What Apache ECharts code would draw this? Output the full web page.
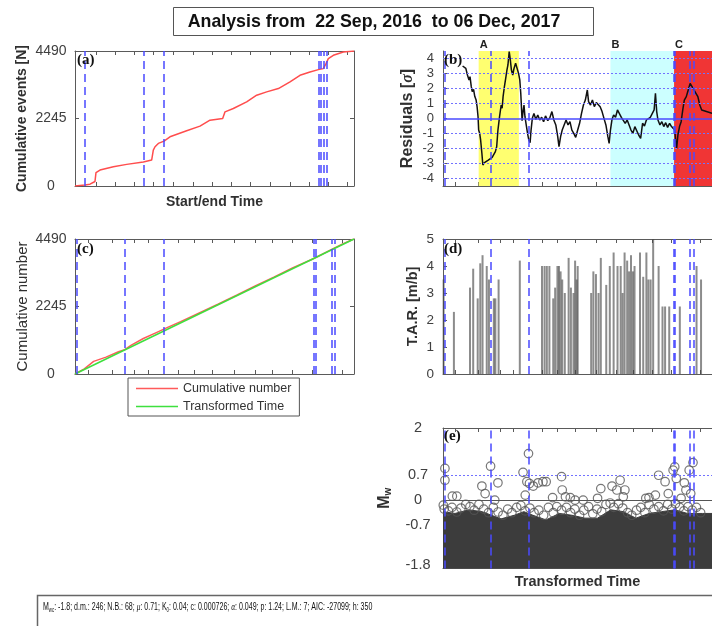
<!DOCTYPE html>
<html><head><meta charset="utf-8">
<script src="https://cdn.jsdelivr.net/npm/echarts@6/dist/echarts.min.js"></script>
<style>html,body{margin:0;padding:0;background:#fff}#c{width:712px;height:626px}</style>
</head><body><div id="c"></div>
<script>
// ---------------- data ----------------
const titleText = 'Analysis from  22 Sep, 2016  to 06 Dec, 2017';
const dayTicks = [33, 63, 94, 124, 155, 186, 216, 247, 277, 308, 339, 369, 400, 430];
const ttTicks = [209, 595, 958, 1175, 1658, 1915, 2205, 2559, 2897, 3170, 3492, 3814, 4297];
const cumTicks = [0, 2245, 4490];
const resTicks = [-4, -3, -2, -1, 0, 1, 2, 3, 4];
const tarTicks = [0, 1, 2, 3, 4, 5];
const mwTicks = [-1.8, -0.7, 0, 0.7, 2];
const eventDays = [15.8, 107.8, 140.4, 383.8, 388, 392.7, 397];
const eventTT = [25, 797, 1424, 3850, 3870, 4125, 4178];
const regionA = ['A', 595, 1266];
const regionB = ['B', 2795, 3857];
const regionC = ['C', 3857, 4490];
const cumEvents = [[0,0],[15.8,30],[23.7,60],[31.5,150],[33.1,442],[39.4,531],[60.5,641],[81.5,719],[107.8,796],[120.9,863],[123.5,1195],[126.2,1305],[131.4,1416],[140.4,1493],[149.8,1637],[176.1,1836],[197.1,1991],[212.9,2190],[232.9,2245],[236.6,2466],[249.7,2577],[270.7,2798],[286.5,3019],[302.3,3130],[320.7,3241],[339.1,3462],[354.8,3683],[370.6,3794],[383.8,3871],[391.6,3904],[395.9,4070],[399.5,4236],[407.4,4347],[423.2,4457],[440,4490]];
const cumNumber = [[0,0],[150,170],[300,420],[500,560],[700,740],[800,810],[900,950],[1100,1180],[1300,1370],[1500,1560],[1700,1740],[2000,2030],[2300,2320],[2600,2620],[2900,2930],[3200,3220],[3500,3530],[3800,3800],[3900,3900],[4100,4110],[4300,4320],[4490,4490]];
const transformedTime = [[0,0],[4490,4490]];
const residuals = [[327,3.5],[381,3.34],[408,2.9],[434,2.57],[451,2.79],[472,2.12],[488,1.79],[510,1.94],[531,1.46],[553,1.23],[569,0.79],[585,0.12],[595,-0.77],[612,-0.99],[628,-1.43],[649,-2.32],[665,-3.1],[692,-2.94],[719,-2.99],[756,-2.77],[789,-2.81],[821,-2.59],[853,-2.66],[874,-2.21],[896,-1.88],[917,-0.77],[944,0.12],[971,0.9],[987,0.68],[1003,1.46],[1025,2.12],[1051,2.79],[1067,3.23],[1084,3.57],[1105,4.46],[1121,4.01],[1142,3.23],[1164,2.9],[1185,3.34],[1212,3.68],[1239,3.57],[1261,3.01],[1282,2.57],[1298,1.68],[1309,0.79],[1320,-0.14],[1336,0.46],[1352,0.9],[1368,0.12],[1389,-0.43],[1411,-0.99],[1432,-1.43],[1454,-1.61],[1470,-0.77],[1491,0.01],[1518,0.34],[1550,-0.06],[1582,0.23],[1615,-0.1],[1647,0.08],[1679,-0.21],[1711,0.17],[1749,-0.14],[1786,0.08],[1818,0.46],[1850,-0.1],[1883,-0.43],[1915,-1.21],[1936,-1.88],[1963,-1.21],[1990,-0.77],[2022,-0.66],[2054,-0.1],[2087,-0.43],[2119,-0.21],[2151,-0.77],[2183,-0.99],[2215,-1.26],[2248,-0.77],[2280,-0.32],[2312,0.34],[2344,0.9],[2376,1.23],[2409,1.9],[2430,1.12],[2462,0.9],[2494,1.23],[2526,0.79],[2559,1.06],[2591,0.97],[2623,0.79],[2655,0.46],[2687,0.01],[2719,-0.43],[2752,-1.21],[2773,-1.66],[2795,-0.77],[2821,-0.06],[2848,0.23],[2880,0.08],[2912,0.57],[2945,0.61],[2977,0.08],[3009,0.17],[3041,-0.32],[3074,-0.1],[3106,-0.43],[3138,-0.77],[3170,-0.99],[3202,-0.54],[3234,-0.66],[3266,-1.1],[3299,-1.32],[3331,-0.32],[3363,-0.5],[3395,-0.1],[3427,-0.21],[3460,0.08],[3492,0.08],[3524,0.57],[3546,1.68],[3567,0.46],[3588,-0.1],[3621,-0.43],[3653,-0.21],[3685,-0.54],[3717,-0.28],[3749,-0.59],[3782,-0.32],[3814,-0.54],[3846,-0.43],[3867,-0.77],[3883,-1.43],[3900,-1.99],[3921,-1.1],[3948,-0.54],[3975,-0.21],[4002,0.57],[4028,1.23],[4061,1.46],[4093,1.9],[4125,2.34],[4157,2.12],[4189,2.23],[4222,1.68],[4254,1.46],[4286,0.9],[4318,0.57],[4350,0.68],[4490,0.34]];
const tar = [[10,3.5],[182,2.3],[451,3.2],[504,3.9],[579,2.8],[622,4.1],[660,4.4],[730,4.0],[767,3.5],[848,2.8],[874,2.8],[928,3.5],[1282,4.2],[1652,4.0],[1695,4.0],[1733,4.0],[1776,4.0],[1840,2.8],[1872,3.2],[1910,4.0],[1936,4.0],[1963,3.8],[1990,3.5],[2033,3.0],[2097,4.3],[2135,3.2],[2178,3.0],[2205,4.2],[2231,3.5],[2248,4.0],[2473,3.0],[2510,3.8],[2553,3.7],[2596,3.0],[2634,4.3],[2725,3.3],[2784,4.0],[2848,4.5],[2913,4.0],[2966,4.0],[2998,3.0],[3031,4.5],[3074,4.2],[3106,3.8],[3138,4.4],[3170,3.8],[3197,4.0],[3288,4.5],[3342,3.6],[3395,4.5],[3428,3.5],[3465,3.5],[3508,5.0],[3599,4.0],[3664,2.5],[3707,2.5],[3776,2.5],[3953,2.5],[4232,4.0],[4307,3.5]];
// upper edge of the solid (saturated) cloud of magnitudes
const mwCloudTop = [[0,-0.32],[200,-0.37],[430,-0.27],[650,-0.32],[810,-0.42],[970,-0.52],[1190,-0.42],[1350,-0.32],[1500,-0.42],[1720,-0.55],[1940,-0.37],[2150,-0.42],[2370,-0.5],[2580,-0.5],[2800,-0.27],[3010,-0.32],[3220,-0.5],[3440,-0.37],[3650,-0.32],[3870,-0.27],[4080,-0.37],[4330,-0.37],[4490,-0.37]];
// individually visible events above / at the edge of the cloud
const mwEvents = [[32,0.88],[32,0.55],[5,-0.14],[156,0.11],[231,0.11],[649,0.39],[703,0.18],[794,0.94],[864,0.0],[917,0.48],[1336,0.77],[1400,0.51],[1427,1.29],[1443,0.46],[1373,0.14],[1507,0.39],[1588,0.48],[1668,0.51],[1722,0.51],[1979,0.65],[1990,0.28],[1829,0.07],[2044,0.09],[2124,0.07],[2205,0.0],[2339,0.0],[2634,0.32],[2580,0.05],[2821,0.39],[2956,0.55],[2902,0.28],[3036,0.28],[3009,0.09],[3599,0.69],[3707,0.51],[3841,0.83],[3868,0.92],[3894,0.6],[4028,0.48],[4055,0.28],[4109,0.83],[4173,1.04],[4135,0.18],[3438,0.07],[3545,0.14],[3385,0.05],[3760,0.18],[3974,0.05],
[20,-0.25],[90,-0.3],[150,-0.2],[230,-0.33],[300,-0.22],[380,-0.12],[450,-0.18],[520,-0.28],[600,-0.12],[680,-0.25],[760,-0.35],[840,-0.2],[920,-0.33],[1000,-0.42],[1080,-0.25],[1150,-0.35],[1230,-0.2],[1300,-0.15],[1370,-0.3],[1450,-0.22],[1520,-0.35],[1600,-0.28],[1680,-0.42],[1760,-0.2],[1840,-0.35],[1900,-0.18],[1980,-0.28],[2060,-0.2],[2130,-0.35],[2200,-0.25],[2280,-0.42],[2350,-0.28],[2430,-0.18],[2500,-0.38],[2570,-0.25],[2650,-0.32],[2720,-0.12],[2790,-0.08],[2850,-0.2],[2930,-0.1],[3000,-0.22],[3080,-0.35],[3150,-0.42],[3230,-0.28],[3300,-0.2],[3370,-0.35],[3440,-0.12],[3520,-0.25],[3600,-0.18],[3680,-0.3],[3750,-0.12],[3820,-0.25],[3880,-0.1],[3950,-0.2],[4020,-0.3],[4090,-0.18],[4160,-0.28],[4230,-0.2],[4300,-0.35]];
const statsLine = ['-1.8', '246', '68', '0.71', '0.04', '0.000726', '0.049', '1.24', '7', '-27099', '350'];

// ---------------- styles ----------------
const FONT = 'Liberation Sans, Arial, sans-serif';
const AX = '#5a5a5a';
const EVT = { type: [8, 5], color: '#4a4aff', width: 1.5 };
const lbl = { fontFamily: FONT, color: '#404040', formatter: v => String(v) };

function xAxisDef(grid, min, max, ticks, position, name, nameOpts) {
  return Object.assign({
    type: 'value', gridIndex: grid, min: min, max: max, position: position,
    axisLine: { show: true, onZero: false, lineStyle: { color: AX, width: 1 } },
    axisTick: { show: !!ticks, inside: true, length: 4, customValues: ticks || [], lineStyle: { color: AX } },
    axisLabel: { show: false }, splitLine: { show: false },
    name: name || '', nameLocation: 'middle'
  }, nameOpts || {});
}
function yAxisDef(grid, min, max, ticks, position, showLabels, labelOpts, name, nameOpts) {
  return Object.assign({
    type: 'value', gridIndex: grid, min: min, max: max, position: position,
    axisLine: { show: true, onZero: false, lineStyle: { color: AX, width: 1 } },
    axisTick: { show: true, inside: true, length: 4, customValues: ticks, lineStyle: { color: AX } },
    axisLabel: Object.assign({ show: showLabels, customValues: ticks }, lbl, labelOpts || {}),
    splitLine: { show: false },
    name: name || '', nameLocation: 'middle'
  }, nameOpts || {});
}
function vLines(values) {
  return { symbol: 'none', silent: true, animation: false, label: { show: false },
    lineStyle: EVT, data: values.map(v => ({ xAxis: v })) };
}
const nameBold = (size) => ({ fontFamily: FONT, fontWeight: 'bold', fontSize: size, color: '#303030' });

const chart = echarts.init(document.getElementById('c'), null, { renderer: 'canvas' });

const regions = [regionA, regionB, regionC];
const regionColors = ['#ffff70', '#ccffff', '#f03535'];

const option = {
  animation: false,
  backgroundColor: '#fff',
  grid: [
    { left: 75, top: 51, width: 279, height: 135 },
    { left: 443, top: 51, width: 279, height: 135 },
    { left: 75, top: 239, width: 279, height: 135 },
    { left: 443, top: 239, width: 279, height: 135 },
    { left: 443, top: 428, width: 279, height: 140.6 }
  ],
  xAxis: [
    xAxisDef(0, 0, 440, dayTicks, 'bottom', 'Start/end Time', { nameGap: 9, nameTextStyle: nameBold(14) }),
    xAxisDef(0, 0, 440, dayTicks, 'top'),
    xAxisDef(1, 0, 4490, ttTicks, 'bottom'),
    xAxisDef(2, 0, 4490, ttTicks, 'bottom'),
    xAxisDef(2, 0, 4490, ttTicks, 'top'),
    xAxisDef(3, 0, 4490, ttTicks, 'bottom'),
    xAxisDef(3, 0, 4490, ttTicks, 'top'),
    xAxisDef(4, 0, 4490, ttTicks, 'bottom', 'Transformed Time', { nameGap: 6, nameTextStyle: nameBold(14.5) }),
    xAxisDef(4, 0, 4490, ttTicks, 'top')
  ],
  yAxis: [
    yAxisDef(0, 0, 4490, cumTicks, 'left', true, { fontSize: 14, margin: 24, align: 'center' }, 'Cumulative events [N]', { nameGap: 46, nameTextStyle: nameBold(14) }),
    yAxisDef(0, 0, 4490, cumTicks, 'right', false),
    yAxisDef(1, -4.5, 4.5, resTicks, 'left', true, { fontSize: 13, margin: 9 }, 'Residuals [{i|σ}]', { nameGap: 27, nameTextStyle: Object.assign(nameBold(16), { rich: { i: { fontFamily: 'Liberation Serif, serif', fontStyle: 'italic', fontWeight: 'bold', fontSize: 16, color: '#303030' } } }) }),
    yAxisDef(2, 0, 4490, cumTicks, 'left', true, { fontSize: 14, margin: 24, align: 'center' }, 'Cumulative number', { nameGap: 45, nameTextStyle: { fontFamily: FONT, fontSize: 15, color: '#303030' } }),
    yAxisDef(2, 0, 4490, cumTicks, 'right', false),
    yAxisDef(3, 0, 5, tarTicks, 'left', true, { fontSize: 13.5, margin: 9 }, 'T.A.R. [m/b]', { nameGap: 23, nameTextStyle: nameBold(14.5) }),
    yAxisDef(4, -1.9, 2, mwTicks, 'left', true, { fontSize: 14.5, margin: 25, align: 'center' }, '{m|M}{s|w}', { nameGap: 50, nameTextStyle: { rich: {
      m: { fontFamily: FONT, fontWeight: 'bold', fontSize: 16, color: '#303030' },
      s: { fontFamily: FONT, fontWeight: 'bold', fontSize: 10, color: '#303030', verticalAlign: 'bottom' } } } })
  ],
  legend: {
    data: [{ name: 'Cumulative number', icon: 'rect' }, { name: 'Transformed Time', icon: 'rect' }],
    orient: 'vertical', left: 128, top: 378,
    borderColor: '#555', borderWidth: 1, borderRadius: 0, backgroundColor: '#fff',
    padding: [4, 8, 3, 8], itemGap: 5, itemWidth: 42, itemHeight: 1.6,
    textStyle: { fontFamily: FONT, fontSize: 12.5, color: '#333', lineHeight: 13 },
    selectedMode: false
  },
  series: [
    { type: 'line', xAxisIndex: 0, yAxisIndex: 0, data: cumEvents, symbol: 'none', z: 3,
      lineStyle: { color: '#ff4d4d', width: 1.5 }, itemStyle: { color: '#ff4d4d' }, markLine: vLines(eventDays) },
    // (b)
    { type: 'line', xAxisIndex: 2, yAxisIndex: 2, data: [], z: 1,
      markArea: { silent: true, data: regions.map((r, i) => [
        { name: r[0], xAxis: r[1], itemStyle: { color: regionColors[i], opacity: 1 },
          label: { show: true, position: [1, -12], color: '#202020', fontFamily: FONT, fontWeight: 'bold', fontSize: 11 } },
        { xAxis: r[2] }]) } },
    { type: 'line', xAxisIndex: 2, yAxisIndex: 2, data: [], z: 2,
      markLine: { symbol: 'none', silent: true, label: { show: false },
        data: resTicks.filter(v => v !== 0).map(v => ({ yAxis: v, lineStyle: { type: [2, 2], color: '#7272ff', width: 1 } }))
          .concat([{ yAxis: 0, lineStyle: { type: 'solid', color: '#4a4aff', width: 1.6 } }]) } },
    { type: 'line', xAxisIndex: 2, yAxisIndex: 2, data: residuals, symbol: 'none', z: 3,
      lineStyle: { color: '#111', width: 1.5 } },
    { type: 'line', xAxisIndex: 2, yAxisIndex: 2, data: [], z: 4, markLine: vLines(eventTT) },
    // (c)
    { name: 'Cumulative number', type: 'line', xAxisIndex: 3, yAxisIndex: 3, data: cumNumber, symbol: 'none', z: 3,
      lineStyle: { color: '#ff5a5a', width: 1.5 }, itemStyle: { color: '#ff5a5a' } },
    { name: 'Transformed Time', type: 'line', xAxisIndex: 3, yAxisIndex: 3, data: transformedTime, symbol: 'none', z: 3,
      lineStyle: { color: '#3ee03e', width: 1.5 }, itemStyle: { color: '#3ee03e' } },
    { type: 'line', xAxisIndex: 3, yAxisIndex: 3, data: [], z: 4, markLine: vLines(eventTT) },
    // (d)
    { type: 'bar', xAxisIndex: 5, yAxisIndex: 5, data: tar, barWidth: 2, z: 2,
      itemStyle: { color: 'rgba(70,70,70,0.62)' } },
    { type: 'line', xAxisIndex: 5, yAxisIndex: 5, data: [], z: 4, markLine: vLines(eventTT) },
    // (e)
    { type: 'line', xAxisIndex: 7, yAxisIndex: 6, data: mwCloudTop, symbol: 'none', z: 2,
      lineStyle: { color: '#3c3c3c', width: 1 }, areaStyle: { color: '#3c3c3c', opacity: 1, origin: 'start' } },
    { type: 'line', xAxisIndex: 7, yAxisIndex: 6, data: [], z: 3,
      markLine: { symbol: 'none', silent: true, label: { show: false }, data: [
        { yAxis: 0, lineStyle: { type: 'solid', color: '#555', width: 1.2 } },
        { yAxis: 0.7, lineStyle: { type: [2, 2], color: '#7272ff', width: 1 } }] } },
    { type: 'scatter', xAxisIndex: 7, yAxisIndex: 6, data: mwEvents, symbol: 'circle', symbolSize: 8.5, z: 4,
      itemStyle: { color: 'rgba(0,0,0,0)', borderColor: '#555', borderWidth: 1.2 } },
    { type: 'line', xAxisIndex: 7, yAxisIndex: 6, data: [], z: 5, markLine: vLines(eventTT) }
  ],
  graphic: [
    { type: 'rect', z: 100, shape: { x: 173.5, y: 7.5, width: 420, height: 28 }, style: { fill: '#fff', stroke: '#555', lineWidth: 1 } },
    { type: 'text', z: 101, x: 374, y: 22, style: { text: titleText, fontFamily: FONT, fontWeight: 'bold', fontSize: 17.8, fill: '#111', align: 'center', verticalAlign: 'middle' } },
    { type: 'rect', z: 100, shape: { x: 37.5, y: 595.5, width: 700, height: 40 }, style: { fill: '#fff', stroke: '#666', lineWidth: 1.5 } },
    { type: 'text', z: 101, x: 43, y: 607, scaleX: 0.67, style: {
      text: '{t|M}{s|wc}{t|: ' + statsLine[0] + '; d.m.: ' + statsLine[1] + '; N.B.: ' + statsLine[2] + '; }{i|μ}{t|: ' + statsLine[3] + '; K}{s|0}{t|: ' + statsLine[4] + '; c: ' + statsLine[5] + '; }{i|α}{t|: ' + statsLine[6] + '; p: ' + statsLine[7] + '; L.M.: ' + statsLine[8] + '; AIC: ' + statsLine[9] + '; h: ' + statsLine[10] + '}',
      verticalAlign: 'middle', align: 'left',
      rich: {
        t: { fontFamily: FONT, fontSize: 10.5, fill: '#111', lineHeight: 14 },
        i: { fontFamily: 'Liberation Serif, serif', fontStyle: 'italic', fontSize: 11, fill: '#111', lineHeight: 14 },
        s: { fontFamily: FONT, fontSize: 6.5, fill: '#111', lineHeight: 14, verticalAlign: 'bottom' }
      } } },
    { type: 'text', z: 101, x: 77, y: 53, style: { text: '(a)', fontFamily: 'Liberation Serif, serif', fontWeight: 'bold', fontSize: 15, fill: '#111' } },
    { type: 'text', z: 101, x: 444, y: 53, style: { text: '(b)', fontFamily: 'Liberation Serif, serif', fontWeight: 'bold', fontSize: 15, fill: '#111' } },
    { type: 'text', z: 101, x: 77, y: 242, style: { text: '(c)', fontFamily: 'Liberation Serif, serif', fontWeight: 'bold', fontSize: 15, fill: '#111' } },
    { type: 'text', z: 101, x: 444, y: 242, style: { text: '(d)', fontFamily: 'Liberation Serif, serif', fontWeight: 'bold', fontSize: 15, fill: '#111' } },
    { type: 'text', z: 101, x: 444, y: 429, style: { text: '(e)', fontFamily: 'Liberation Serif, serif', fontWeight: 'bold', fontSize: 15, fill: '#111' } }
  ]
};
chart.setOption(option);
</script></body></html>
